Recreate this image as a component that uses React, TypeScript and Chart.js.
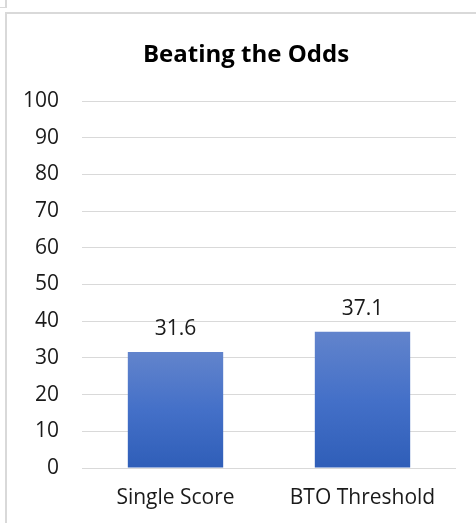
import React, { useEffect, useRef } from "react";
import { Chart, registerables } from "chart.js";

Chart.register(...registerables);

const categories = ["Single Score", "BTO Threshold"];
const scores = [31.6, 37.1];
const yTicks = [0, 10, 20, 30, 40, 50, 60, 70, 80, 90, 100];
const chartTitle = "Beating the Odds";

const FONT = "'Open Sans', Lato, sans-serif";

const valueLabels = {
  id: "valueLabels",
  afterDatasetsDraw(chart: any) {
    const { ctx } = chart;
    const meta = chart.getDatasetMeta(0);
    ctx.save();
    ctx.font = `21px ${FONT}`;
    ctx.fillStyle = "#1a1a1a";
    ctx.textAlign = "center";
    ctx.textBaseline = "alphabetic";
    meta.data.forEach((bar: any, i: number) => {
      ctx.fillText(String(scores[i]), bar.x, bar.y - 17);
    });
    ctx.restore();
  },
};

const titleText = {
  id: "titleText",
  afterDraw(chart: any) {
    const { ctx } = chart;
    ctx.save();
    ctx.font = `bold 24px ${FONT}`;
    ctx.fillStyle = "#000";
    ctx.textAlign = "center";
    ctx.textBaseline = "alphabetic";
    ctx.fillText(chartTitle, chart.width / 2 + 4.5, 48);
    ctx.restore();
  },
};

export default function App() {
  const ref = useRef<HTMLCanvasElement>(null);
  useEffect(() => {
    if (!ref.current) return;
    const chart = new Chart(ref.current, {
      type: "bar",
      data: {
        labels: categories,
        datasets: [
          {
            data: scores,
            backgroundColor: (c: any) => {
              const ch = c.chart;
              const y = ch.scales?.y;
              if (!ch.chartArea || !y || c.parsed == null) return "#4472c4";
              const top = y.getPixelForValue(c.parsed.y);
              const bot = y.getPixelForValue(0);
              const g = ch.ctx.createLinearGradient(0, top, 0, bot);
              g.addColorStop(0, "#6284cc");
              g.addColorStop(0.5, "#4470c8");
              g.addColorStop(1, "#2f5eb8");
              return g;
            },
            borderWidth: 0,
            barPercentage: 0.51,
            categoryPercentage: 1,
          },
        ],
      },
      options: {
        animation: false,
        responsive: false,
        maintainAspectRatio: false,
        layout: { padding: { left: 0, right: 20, top: 87, bottom: 0 } },
        plugins: {
          legend: { display: false },
          tooltip: { enabled: false },
          title: { display: false },
        },
        scales: {
          x: {
            grid: { display: false, drawTicks: false },
            border: { display: false },
            ticks: { color: "#1a1a1a", font: { family: FONT, size: 21 }, padding: 17 },
            afterFit: (s: any) => {
              s.height = 55;
            },
          },
          y: {
            min: 0,
            max: 100,
            afterBuildTicks: (s: any) => {
              s.ticks = yTicks.map((v) => ({ value: v }));
            },
            afterFit: (s: any) => {
              s.width = 75;
            },
            grid: { color: "#d9d9d9", lineWidth: 1, drawTicks: false },
            border: { display: false },
            ticks: { color: "#1a1a1a", font: { family: FONT, size: 21 }, padding: 23 },
          },
        },
      },
      plugins: [valueLabels, titleText],
    });
    return () => chart.destroy();
  }, []);

  return (
    <div style={{ position: "fixed", left: 0, top: 0, width: 476, height: 523, background: "#fff", overflow: "hidden" }}>
      <div style={{ position: "absolute", left: 5, top: 0, width: 2, height: 7, background: "#d9d9d9" }} />
      <div style={{ position: "absolute", left: 0, top: 7, width: 7, height: 1, background: "#d9d9d9" }} />
      <div style={{ position: "absolute", left: 5, top: 12, width: 471, height: 2, background: "#d9d9d9" }} />
      <div style={{ position: "absolute", left: 5, top: 12, width: 2, height: 511, background: "#d9d9d9" }} />
      <canvas ref={ref} width={469} height={509} style={{ position: "absolute", left: 7, top: 14, width: 469, height: 509 }} />
    </div>
  );
}
